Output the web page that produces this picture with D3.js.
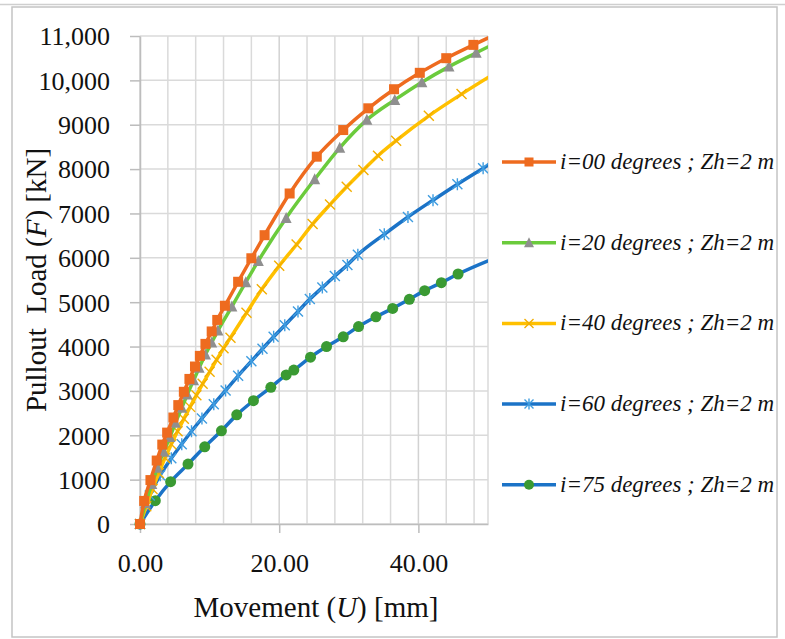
<!DOCTYPE html>
<html>
<head>
<meta charset="utf-8">
<script src="https://cdn.jsdelivr.net/npm/d3@7"></script>
<style>
  body { margin: 0; background: #fff; }
  svg { display: block; font-family: "Liberation Serif", "DejaVu Serif", serif; }
  .grid line { stroke: #dadada; stroke-width: 1.5; }
  .grid line.major { stroke: #d2d2d2; }
  .axis path, .axis line { stroke: #bdbdbd; stroke-width: 1.5; }
  .axis text { font-family: "Liberation Serif", "DejaVu Serif", serif; font-size: 26px; fill: #111; }
  .title { font-size: 29px; fill: #111; }
  .legend text { font-size: 23px; font-style: italic; fill: #111; }
  .series path.line { fill: none; stroke-width: 3.5; }
</style>
</head>
<body>
<div id="chart"></div>
<script>
// values
const seriesLabels = [
  "i=00 degrees ; Zh=2 m",
  "i=20 degrees ; Zh=2 m",
  "i=40 degrees ; Zh=2 m",
  "i=60 degrees ; Zh=2 m",
  "i=75 degrees ; Zh=2 m",
];

const u00 = [0, 0.6, 1.5, 2.4, 3.2, 3.9, 4.8, 5.5, 6.3, 7.1, 7.9, 8.6, 9.4, 10.3, 11.1, 12.2, 14.1, 16.0, 17.9, 21.5, 25.4, 29.2, 32.8, 36.5, 40.2, 44.0, 47.9, 51.7];
const f00 = [0, 520, 990, 1430, 1790, 2060, 2400, 2680, 2980, 3270, 3550, 3790, 4060, 4340, 4600, 4920, 5460, 5990, 6510, 7450, 8280, 8880, 9370, 9800, 10170, 10500, 10800, 11080];

const u20 = [0, 0.8, 1.7, 2.5, 3.4, 4.3, 5.1, 6.0, 6.8, 7.7, 8.5, 9.4, 10.3, 11.2, 13.2, 15.2, 17.0, 21.0, 25.1, 28.7, 32.6, 36.6, 40.5, 44.4, 48.3, 52.2];
const f20 = [0, 470, 900, 1270, 1630, 1960, 2280, 2620, 2920, 3240, 3520, 3820, 4090, 4360, 4900, 5450, 5930, 6900, 7770, 8480, 9110, 9560, 9960, 10310, 10620, 10930];

const u40 = [0, 0.9, 1.8, 2.7, 3.6, 4.5, 5.4, 6.3, 7.2, 8.1, 9.0, 10.0, 11.0, 12.0, 13.0, 15.3, 17.5, 20.0, 22.5, 24.8, 27.3, 29.7, 32.1, 34.2, 36.8, 41.5, 46.2, 50.9];
const f40 = [0, 400, 790, 1150, 1490, 1800, 2090, 2370, 2640, 2900, 3160, 3430, 3700, 3960, 4200, 4760, 5290, 5820, 6300, 6760, 7200, 7600, 7980, 8300, 8640, 9200, 9690, 10150];

const u60 = [0, 1.4, 2.9, 4.5, 6.0, 7.4, 8.9, 10.6, 12.3, 14.1, 16.0, 17.6, 19.2, 20.8, 22.7, 24.4, 26.2, 28.0, 29.8, 31.3, 35.1, 38.5, 42.1, 45.6, 49.3, 53.0];
const f60 = [0, 640, 1100, 1480, 1800, 2090, 2380, 2700, 3010, 3340, 3670, 3950, 4220, 4480, 4790, 5070, 5330, 5590, 5840, 6070, 6530, 6920, 7300, 7660, 8020, 8370];

const u75 = [0, 2.2, 4.4, 6.9, 9.3, 11.7, 13.9, 16.3, 18.8, 21.0, 22.1, 24.5, 26.8, 29.2, 31.4, 33.9, 36.3, 38.7, 40.9, 43.3, 45.7, 52.0];
const f75 = [0, 525, 955, 1350, 1740, 2100, 2460, 2780, 3080, 3360, 3470, 3760, 4000, 4220, 4450, 4670, 4860, 5065, 5260, 5440, 5635, 6060];

const yTicks = [0, 1000, 2000, 3000, 4000, 5000, 6000, 7000, 8000, 9000, 10000, 11000];
const xTicks = [0, 20, 40];
const xMinor = [0, 4, 8, 12, 16, 20, 24, 28, 32, 36, 40, 44, 48, 50];

class PulloutChart {
  constructor({ el }) {
    this.el = el;
    this.width = 785;
    this.height = 639;
    this.init();
  }

  init() {
    this.marginTop = 36;
    this.marginLeft = 140;
    this.plotRight = 488;
    this.plotBottom = 524;

    this.series = [
      { label: seriesLabels[0], u: u00, f: f00, line: "#ee6b1f", marker: "#ee6b1f", shape: "square" },
      { label: seriesLabels[1], u: u20, f: f20, line: "#6bcb3c", marker: "#8f8f8f", shape: "triangle" },
      { label: seriesLabels[2], u: u40, f: f40, line: "#ffc000", marker: "#f2ae00", shape: "x" },
      { label: seriesLabels[3], u: u60, f: f60, line: "#1b73c7", marker: "#3f9de0", shape: "star" },
      { label: seriesLabels[4], u: u75, f: f75, line: "#1b73c7", marker: "#3a9a33", shape: "circle" },
    ];

    this.x = d3.scaleLinear().domain([0, 50]).range([this.marginLeft, this.plotRight]);
    this.y = d3.scaleLinear().domain([0, 11000]).range([this.plotBottom, this.marginTop]);

    this.line = d3
      .line()
      .x((d) => this.x(d[0]))
      .y((d) => this.y(d[1]))
      .curve(d3.curveMonotoneX);

    this.svg = d3
      .select(this.el)
      .append("svg")
      .attr("width", this.width)
      .attr("height", this.height);

    this.render();
  }

  render() {
    this.renderFrame();
    this.renderGrid();
    this.renderAxes();
    this.renderSeries();
    this.renderLegend();
  }

  renderFrame() {
    this.svg
      .append("line")
      .attr("x1", 0)
      .attr("x2", this.width)
      .attr("y1", 4.5)
      .attr("y2", 4.5)
      .attr("stroke", "#cfcfcf")
      .attr("stroke-width", 1.5);
    this.svg
      .append("rect")
      .attr("x", 12)
      .attr("y", 7)
      .attr("width", 765)
      .attr("height", 630)
      .attr("fill", "none")
      .attr("stroke", "#c4c4c4")
      .attr("stroke-width", 1.5);
  }

  renderGrid() {
    const g = this.svg.append("g").attr("class", "grid");
    g.selectAll(".h")
      .data(yTicks)
      .join("line")
      .attr("class", "h")
      .attr("x1", this.marginLeft)
      .attr("x2", this.plotRight)
      .attr("y1", (d) => this.y(d))
      .attr("y2", (d) => this.y(d));
    g.selectAll(".v")
      .data(xMinor)
      .join("line")
      .attr("class", (d) => (d % 20 === 0 ? "v major" : "v"))
      .attr("x1", (d) => this.x(d))
      .attr("x2", (d) => this.x(d))
      .attr("y1", this.marginTop)
      .attr("y2", this.plotBottom);
  }

  renderAxes() {
    const yAxis = d3
      .axisLeft(this.y)
      .tickValues(yTicks)
      .tickSizeInner(10)
      .tickSizeOuter(0)
      .tickPadding(20)
      .tickFormat((d) => (d >= 10000 ? d3.format(",")(d) : d));
    this.svg
      .append("g")
      .attr("class", "axis")
      .attr("transform", `translate(${this.marginLeft},0)`)
      .call(yAxis)
      .call((g) => g.selectAll("text").attr("dy", "0.34em"));

    const xAxis = d3
      .axisBottom(this.x)
      .tickValues(xTicks)
      .tickSizeInner(9)
      .tickSizeOuter(0)
      .tickPadding(21)
      .tickFormat(d3.format(".2f"));
    this.svg
      .append("g")
      .attr("class", "axis")
      .attr("transform", `translate(0,${this.plotBottom})`)
      .call(xAxis);

    const xt = this.svg
      .append("text")
      .attr("class", "title")
      .attr("x", (this.marginLeft + this.plotRight) / 2 + 2)
      .attr("y", 617)
      .attr("text-anchor", "middle");
    xt.append("tspan").text("Movement (");
    xt.append("tspan").attr("font-style", "italic").text("U");
    xt.append("tspan").text(") [mm]");

    const yt = this.svg
      .append("text")
      .attr("class", "title")
      .attr("transform", `translate(46,${(this.marginTop + this.plotBottom) / 2}) rotate(-90)`)
      .attr("text-anchor", "middle")
      .style("white-space", "pre");
    yt.append("tspan").text("Pullout  Load (");
    yt.append("tspan").attr("font-style", "italic").text("F");
    yt.append("tspan").text(") [kN]");
  }

  marker(sel, s, size) {
    const h = size / 2;
    if (s.shape === "square") {
      sel.append("rect")
        .attr("x", -h).attr("y", -h).attr("width", size).attr("height", size)
        .attr("fill", s.marker);
    } else if (s.shape === "triangle") {
      sel.append("path")
        .attr("d", `M0,${-h - 1}L${h + 0.5},${h}L${-h - 0.5},${h}Z`)
        .attr("fill", s.marker);
    } else if (s.shape === "circle") {
      sel.append("circle").attr("r", h).attr("fill", s.marker);
    } else if (s.shape === "x") {
      sel.append("path")
        .attr("d", `M${-h},${-h}L${h},${h}M${-h},${h}L${h},${-h}`)
        .attr("stroke", s.marker).attr("stroke-width", 1.4).attr("fill", "none");
    } else {
      sel.append("path")
        .attr("d", `M${-h},${-h}L${h},${h}M${-h},${h}L${h},${-h}M0,${-h - 1}L0,${h + 1}`)
        .attr("stroke", s.marker).attr("stroke-width", 1.4).attr("fill", "none");
    }
  }

  renderSeries() {
    this.svg
      .append("clipPath")
      .attr("id", "plot-clip")
      .append("rect")
      .attr("x", this.marginLeft - 20)
      .attr("y", this.marginTop - 20)
      .attr("width", this.plotRight - this.marginLeft + 20)
      .attr("height", this.plotBottom - this.marginTop + 40);

    const g = this.svg.append("g").attr("clip-path", "url(#plot-clip)");

    // draw from last to first so the top curves stay on top, like the source
    this.series
      .slice()
      .reverse()
      .forEach((s) => {
        const pts = s.u.map((u, i) => [u, s.f[i]]);
        const sg = g.append("g").attr("class", "series");
        sg.append("path")
          .attr("class", "line")
          .attr("d", this.line(pts))
          .attr("stroke", s.line);
        sg.selectAll("g.mk")
          .data(pts)
          .join("g")
          .attr("class", "mk")
          .attr("transform", (d) => `translate(${this.x(d[0])},${this.y(d[1])})`)
          .each((d, i, nodes) => this.marker(d3.select(nodes[i]), s, s.shape === "circle" ? 11 : 10));
      });
  }

  renderLegend() {
    const g = this.svg.append("g").attr("class", "legend");
    const row = g
      .selectAll("g")
      .data(this.series)
      .join("g")
      .attr("transform", (d, i) => `translate(502,${162 + i * 80.7})`);
    row.append("line")
      .attr("x1", 0)
      .attr("x2", 54)
      .attr("stroke", (d) => d.line)
      .attr("stroke-width", 3.5);
    row.append("g")
      .attr("transform", "translate(27,0)")
      .each((d, i, nodes) => this.marker(d3.select(nodes[i]), d, d.shape === "circle" ? 10 : 9));
    row.append("text")
      .attr("x", 58)
      .attr("y", 7)
      .text((d) => d.label);
  }
}

new PulloutChart({ el: document.getElementById("chart") });
</script>
</body>
</html>
